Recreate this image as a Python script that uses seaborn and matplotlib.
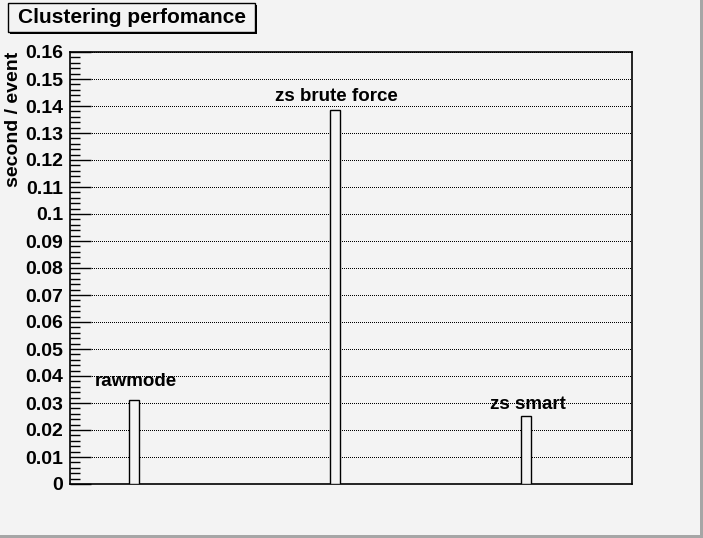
import matplotlib
matplotlib.use("Agg")
import matplotlib.pyplot as plt
from matplotlib.patches import Rectangle
from matplotlib.ticker import MultipleLocator, FuncFormatter
import seaborn as sns
import pandas as pd

# ---- data ----
modes = ["rawmode", "zs brute force", "zs smart"]
x_pos = [0.114, 0.4715, 0.811]          # bar centres along the (unlabelled) x axis
seconds_per_event = [0.0311, 0.1385, 0.0252]
label_y = [0.0381, 0.1437, 0.0296]      # where the bar captions sit
title = "Clustering perfomance"
ylabel = "second / event"

W, H = 703, 538
BG = "#f3f3f3"
plt.rcParams["font.family"] = ["Liberation Sans", "DejaVu Sans"]
plt.rcParams["font.weight"] = "bold"

fig = plt.figure(figsize=(W / 100, H / 100), dpi=100, facecolor=BG)
ax = fig.add_axes([70 / W, (H - 484) / H, 562 / W, 432 / H])
ax.set_facecolor(BG)

df = pd.DataFrame({"x": x_pos, "y": seconds_per_event, "mode": modes})
sns.barplot(data=df, x="x", y="y", native_scale=True, width=0.0524,
            color=BG, edgecolor="black", linewidth=1.0, saturation=1,
            errorbar=None, ax=ax, zorder=3)
for p in ax.patches:
    p.set_facecolor(BG)
    p.set_zorder(3)

ax.set_xlim(0, 1)
ax.set_ylim(0, 0.16)
ax.set_xticks([])
ax.set_xlabel("")
ax.set_ylabel("")

ax.yaxis.set_major_locator(MultipleLocator(0.01))
ax.yaxis.set_minor_locator(MultipleLocator(0.002))
ax.yaxis.set_major_formatter(FuncFormatter(lambda v, _: f"{round(v, 2):g}"))
ax.tick_params(axis="y", which="major", direction="in", length=15, width=1,
               labelsize=14, pad=5)
ax.tick_params(axis="y", which="minor", direction="in", length=7.5, width=1)
for lab in ax.get_yticklabels():
    lab.set_fontweight("bold")

ax.grid(axis="y", which="major", color="black", linestyle=(0, (1, 2)),
        linewidth=0.72, zorder=1)
for gl in ax.get_ygridlines():
    gl.set_antialiased(False)
ax.set_axisbelow(True)
for s in ax.spines.values():
    s.set_color("black")
    s.set_linewidth(1.2)

for xp, ly, name in zip(x_pos, label_y, modes):
    ax.text(xp + 0.003, ly, name, ha="center", va="center", fontsize=13.5,
            fontweight="bold", zorder=4)

# y label, ROOT style: aligned to the top of the axis
fig.text(14 / W, 1 - 52 / H, ylabel, rotation=90, ha="center", va="top",
         fontsize=14, fontweight="bold")

# title box with shadow
bx0, by0, bx1, by1 = 8, 3, 255, 32
fig.add_artist(Rectangle(((bx0 + 2) / W, 1 - (by1 + 2) / H), (bx1 - bx0) / W,
                         (by1 - by0) / H, transform=fig.transFigure,
                         facecolor="black", edgecolor="none"))
fig.add_artist(Rectangle((bx0 / W, 1 - by1 / H), (bx1 - bx0) / W,
                         (by1 - by0) / H, transform=fig.transFigure,
                         facecolor=BG, edgecolor="black", linewidth=1))
fig.text((bx0 + bx1) / 2 / W, 1 - (by0 + by1) / 2 / H, title, ha="center",
         va="center", fontsize=15, fontweight="bold")

# canvas bevel (right / bottom)
fig.add_artist(Rectangle((1 - 3 / W, 0), 3 / W, 1, transform=fig.transFigure,
                         facecolor="#a6a6a6", edgecolor="none"))
fig.add_artist(Rectangle((0, 0), 1, 3 / H, transform=fig.transFigure,
                         facecolor="#a6a6a6", edgecolor="none"))

fig.savefig("out.png", dpi=100, facecolor=BG)
